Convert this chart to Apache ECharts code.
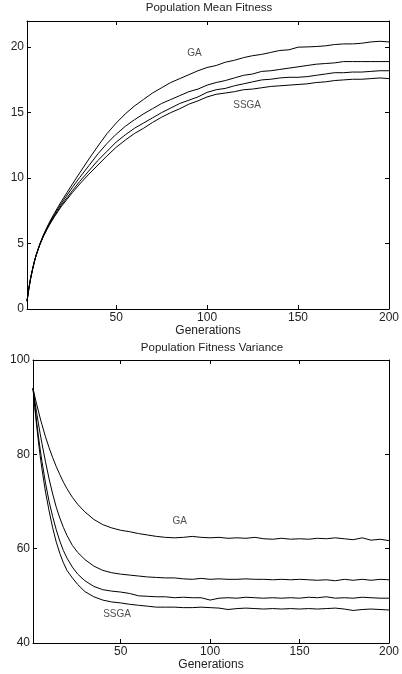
<!DOCTYPE html>
<html>
<head>
<meta charset="utf-8">
<script src="https://cdn.jsdelivr.net/npm/echarts@6/dist/echarts.min.js"></script>
<style>
html,body{margin:0;padding:0;background:#fff;}
#main{width:402px;height:674px;}
</style>
</head>
<body>
<div id="main"></div>
<script>
// Generations sampled
var gens = [1,2,3,4,5,6,8,10,12,14,16,18,20,23,26,30,35,40,45,50,55,60,65,70,75,80,85,90,95,100,105,110,115,120,125,130,135,140,145,150,155,160,165,170,175,180,185,190,195,200];

// Population Mean Fitness (top panel)
var fitA = [0.6,1.55,2.35,3.0,3.6,4.1,4.95,5.65,6.25,6.8,7.3,7.78,8.24,8.9,9.55,10.4,11.45,12.45,13.4,14.2,14.9,15.5,16.0,16.5,16.9,17.3,17.6,17.9,18.2,18.45,18.6,18.85,19.0,19.2,19.35,19.45,19.6,19.75,19.8,20.0,20.02,20.05,20.1,20.2,20.25,20.25,20.3,20.4,20.45,20.4];
var fitB = [0.6,1.55,2.35,3.0,3.6,4.1,4.93,5.6,6.18,6.72,7.2,7.66,8.09,8.7,9.3,10.05,10.95,11.85,12.65,13.35,13.95,14.45,14.9,15.3,15.7,16.0,16.3,16.6,16.8,17.1,17.3,17.45,17.65,17.85,17.95,18.15,18.2,18.3,18.4,18.5,18.6,18.7,18.75,18.8,18.9,18.9,18.9,18.9,18.9,18.9];
var fitC = [0.6,1.55,2.35,3.0,3.6,4.1,4.9,5.57,6.12,6.64,7.1,7.53,7.95,8.5,9.05,9.75,10.55,11.35,12.05,12.75,13.3,13.8,14.2,14.6,15.0,15.35,15.7,15.95,16.2,16.55,16.75,16.85,17.05,17.2,17.35,17.5,17.55,17.65,17.7,17.7,17.75,17.85,17.95,18.05,18.05,18.1,18.1,18.15,18.2,18.2];
var fitD = [0.6,1.55,2.35,3.0,3.6,4.1,4.88,5.54,6.08,6.58,7.03,7.45,7.85,8.38,8.9,9.55,10.3,11.0,11.7,12.35,12.9,13.4,13.8,14.25,14.65,15.0,15.3,15.65,15.9,16.2,16.4,16.5,16.6,16.75,16.8,16.9,17.0,17.05,17.1,17.15,17.2,17.3,17.35,17.45,17.5,17.55,17.55,17.6,17.65,17.6];

// Population Fitness Variance (bottom panel)
var varA = [94,92.3,90.7,89.2,87.7,86.3,83.7,81.4,79.3,77.4,75.7,74.1,72.7,70.9,69.4,67.8,66.2,65.1,64.4,63.9,63.6,63.2,62.9,62.6,62.4,62.3,62.4,62.6,62.4,62.3,62.4,62.2,62.3,62.2,62.4,62.1,62.0,62.2,62.0,62.1,62.0,62.2,62.1,62.3,62.1,61.9,62.3,61.8,62.0,61.7];
var varB = [94,91.4,88.9,86.6,84.4,82.3,78.4,74.8,71.6,68.8,66.5,64.5,62.8,60.7,59.2,57.7,56.3,55.4,54.9,54.6,54.4,54.2,54.0,53.9,53.8,53.8,53.6,53.5,53.7,53.5,53.6,53.5,53.5,53.6,53.5,53.5,53.4,53.5,53.4,53.5,53.4,53.3,53.4,53.2,53.5,53.3,53.5,53.3,53.5,53.4];
var varC = [94,90.4,87.0,83.9,81.1,78.5,73.9,70.0,66.8,64.0,61.6,59.6,58.0,56.1,54.6,53.2,52.0,51.3,51.0,50.8,50.5,50.0,49.9,49.8,49.8,49.6,49.7,49.6,49.6,49.1,49.5,49.6,49.5,49.7,49.6,49.5,49.6,49.5,49.6,49.5,49.7,49.6,49.8,49.5,49.6,49.5,49.7,49.6,49.5,49.5];
var varD = [94,89.9,86.2,82.8,79.7,76.9,72.0,68.0,64.4,61.4,59.0,57.0,55.4,53.8,52.4,50.9,49.8,49.1,48.7,48.5,48.2,48.0,47.8,47.6,47.6,47.6,47.5,47.5,47.6,47.5,47.4,47.1,47.3,47.4,47.3,47.2,47.3,47.2,47.3,47.2,47.3,47.2,47.3,47.4,47.2,46.9,47.1,47.2,47.1,47.0];

// Tick labels
var xTicks = [50,100,150,200];
var yTicksTop = [0,5,10,15,20];
var yTicksBot = [40,60,80,100];

// In-plot annotations: [generation, value, text]
var labelsTop = [[93,19.5,'GA'],[122,15.6,'SSGA']];
var labelsBot = [[83,65.8,'GA'],[48,46.1,'SSGA']];

function pairs(vals){ return gens.map(function(g,i){ return [g, vals[i]]; }); }

var FONT = 'Liberation Sans';
var TXT = '#222';
var lineStyle = {color:'#000', width:1};

function xAx(gi, pos, showLabel){
  return {
    type:'value', gridIndex:gi, position:pos, min:1, max:200,
    name: showLabel ? 'Generations' : '', nameLocation:'middle', nameGap:15,
    nameTextStyle:{fontFamily:FONT, fontSize:12, color:TXT},
    axisLine:{show:true, onZero:false, lineStyle:lineStyle},
    axisTick:{show:true, inside:true, length:4, customValues:xTicks, lineStyle:lineStyle},
    axisLabel:{show:showLabel, customValues:xTicks, margin:3, fontFamily:FONT, fontSize:12, color:TXT},
    splitLine:{show:false}
  };
}
function yAx(gi, pos, showLabel, mn, mx, ticks){
  return {
    type:'value', gridIndex:gi, position:pos, min:mn, max:mx,
    axisLine:{show:true, onZero:false, lineStyle:lineStyle},
    axisTick:{show:true, inside:true, length:4, customValues:ticks, lineStyle:lineStyle},
    axisLabel:{show:showLabel, customValues:ticks, margin:3, fontFamily:FONT, fontSize:12, color:TXT},
    splitLine:{show:false}
  };
}
function lineSeries(vals, xi, yi){
  return {type:'line', xAxisIndex:xi, yAxisIndex:yi, data:pairs(vals), showSymbol:false, symbol:'none',
    lineStyle:{color:'#000', width:1}, silent:true};
}
function labelSeries(arr, xi, yi){
  return {type:'scatter', xAxisIndex:xi, yAxisIndex:yi, symbolSize:1, silent:true,
    itemStyle:{color:'rgba(0,0,0,0)'},
    data: arr.map(function(a){ return {value:[a[0],a[1]], name:a[2]}; }),
    label:{show:true, position:'inside', formatter:'{b}', fontFamily:FONT, fontSize:10, color:TXT}};
}

var chart = echarts.init(document.getElementById('main'), null, {renderer:'canvas'});
chart.setOption({
  animation:false,
  backgroundColor:'#fff',
  title:[
    {text:'Population Mean Fitness', left:209, top:2, padding:0, textAlign:'center',
      textStyle:{fontFamily:FONT, fontSize:11.5, fontWeight:'normal', color:TXT}},
    {text:'Population Fitness Variance', left:212, top:342, padding:0, textAlign:'center',
      textStyle:{fontFamily:FONT, fontSize:11.5, fontWeight:'normal', color:TXT}}
  ],
  grid:[
    {left:27, right:11, top:21, bottom:365},
    {left:33, right:10, top:360, bottom:31}
  ],
  xAxis:[
    xAx(0,'bottom',true), xAx(1,'bottom',true),
    xAx(0,'top',false), xAx(1,'top',false)
  ],
  yAxis:[
    yAx(0,'left',true,0,22,yTicksTop), yAx(1,'left',true,40,100,yTicksBot),
    yAx(0,'right',false,0,22,yTicksTop), yAx(1,'right',false,40,100,yTicksBot)
  ],
  series:[
    lineSeries(fitA,0,0), lineSeries(fitB,0,0), lineSeries(fitC,0,0), lineSeries(fitD,0,0),
    lineSeries(varA,1,1), lineSeries(varB,1,1), lineSeries(varC,1,1), lineSeries(varD,1,1),
    labelSeries(labelsTop,0,0), labelSeries(labelsBot,1,1)
  ]
});
</script>
</body>
</html>
